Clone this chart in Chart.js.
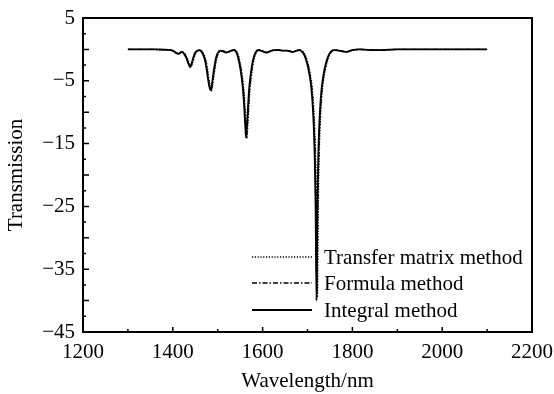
<!DOCTYPE html>
<html><head><meta charset="utf-8">
<script src="https://cdn.jsdelivr.net/npm/chart.js@4/dist/chart.umd.min.js"></script>
<style>html,body{margin:0;padding:0;background:#fff}#wrap{width:554px;height:394px}</style>
</head><body><div id="wrap"><canvas id="c" width="554" height="394"></canvas></div>
<script>
const xTicks = [1200, 1400, 1600, 1800, 2000, 2200];
const yTicks = [5, -5, -15, -25, -35, -45];
const seriesLabels = ['Transfer matrix method', 'Formula method', 'Integral method'];

const wlIntegral = [1300,1320,1340,1360,1380,1395,1402,1408,1413,1419,1424,1429,1434,1438,1442,1446,1450,1455,1460,1464,1468,1472,1475,1478,1481,1484,1487,1490,1493,1496,1500,1505,1512,1519,1526,1535,1541,1545,1549,1552,1555,1558,1560,1562,1563,1564,1566,1568,1570,1573,1576,1580,1585,1590,1600,1608,1616,1625,1635,1645,1655,1667,1675,1682,1687,1692,1696,1701,1705,1709,1712,1714,1716,1718,1720,1722,1724,1726,1728,1731,1735,1739,1744,1748,1753,1760,1770,1786,1800,1816,1840,1867,1900,1950,2000,2050,2100];
const trIntegral = [0,0,0,0,-0.05,-0.1,-0.3,-0.6,-0.7,-0.4,-0.6,-1.2,-2.1,-2.8,-2.2,-1.2,-0.5,-0.2,-0.1,-0.4,-0.9,-1.8,-3.0,-4.5,-5.8,-6.5,-5.6,-4.0,-2.6,-1.4,-0.6,-0.2,-0.3,-0.5,-0.3,-0.1,-0.4,-1.2,-2.5,-3.8,-5.5,-8.0,-10.5,-13.0,-14.0,-13.3,-11,-8.5,-6.3,-4.3,-2.7,-1.3,-0.4,-0.1,-0.3,-0.5,-0.3,-0.1,-0.1,-0.2,-0.2,-0.4,-0.2,-0.1,-0.3,-0.8,-1.5,-2.8,-4.3,-6.5,-9.5,-12.5,-17,-25,-40,-25,-17,-12.5,-9.5,-6.5,-4.3,-2.8,-1.5,-0.8,-0.3,-0.1,-0.2,-0.4,-0.1,0,-0.1,-0.1,0,0,0,0,0];

const wlFormula = [1300,1321,1341,1361,1381,1396,1403,1409,1414,1420,1425,1430,1435,1439,1443,1447,1451,1456,1461,1465,1469,1473,1476,1479,1482,1485,1488,1491,1494,1497,1501,1506,1513,1520,1527,1536,1542,1546,1550,1553,1556,1559,1561,1563,1564,1565,1567,1569,1571,1574,1577,1581,1586,1591,1601,1609,1617,1626,1636,1646,1656,1668,1676,1683,1688,1693,1697,1702,1706,1710,1713,1715,1717,1719,1721,1723,1725,1727,1729,1732,1736,1740,1745,1749,1754,1761,1771,1787,1801,1817,1841,1868,1901,1951,2001,2051,2100];
const trFormula = [0,0,0,0,-0.05,-0.1,-0.3,-0.6,-0.7,-0.4,-0.6,-1.2,-2.1,-2.8,-2.2,-1.2,-0.5,-0.2,-0.1,-0.4,-0.9,-1.8,-3.0,-4.5,-5.8,-6.5,-5.6,-4.0,-2.6,-1.4,-0.6,-0.2,-0.3,-0.5,-0.3,-0.1,-0.4,-1.2,-2.5,-3.8,-5.5,-8.0,-10.5,-13.0,-14.0,-13.3,-11,-8.5,-6.3,-4.3,-2.7,-1.3,-0.4,-0.1,-0.3,-0.5,-0.3,-0.1,-0.1,-0.2,-0.2,-0.4,-0.2,-0.1,-0.3,-0.8,-1.5,-2.8,-4.3,-6.5,-9.5,-12.5,-17,-25,-39,-25,-17,-12.5,-9.5,-6.5,-4.3,-2.8,-1.5,-0.8,-0.3,-0.1,-0.2,-0.4,-0.1,0,-0.1,-0.1,0,0,0,0,0];

const wlTransfer = [1300,1322,1342,1362,1382,1397,1404,1410,1415,1421,1426,1431,1436,1440,1444,1448,1452,1457,1462,1466,1470,1474,1477,1480,1483,1486,1489,1492,1495,1498,1502,1507,1514,1521,1528,1537,1543,1547,1551,1554,1557,1560,1562,1564,1565,1566,1568,1570,1572,1575,1578,1582,1587,1592,1602,1610,1618,1627,1637,1647,1657,1669,1677,1684,1689,1694,1698,1703,1707,1711,1714,1716,1718,1720,1722,1724,1726,1728,1730,1733,1737,1741,1746,1750,1755,1762,1772,1788,1802,1818,1842,1869,1902,1952,2002,2052,2100];
const trTransfer = [0,0,0,0,-0.05,-0.1,-0.3,-0.6,-0.7,-0.4,-0.6,-1.2,-2.1,-2.8,-2.2,-1.2,-0.5,-0.2,-0.1,-0.4,-0.9,-1.8,-3.0,-4.5,-5.8,-6.6,-5.6,-4.0,-2.6,-1.4,-0.6,-0.2,-0.3,-0.5,-0.3,-0.1,-0.4,-1.2,-2.5,-3.8,-5.5,-8.0,-10.5,-13.0,-14.2,-13.3,-11,-8.5,-6.3,-4.3,-2.7,-1.3,-0.4,-0.1,-0.3,-0.5,-0.3,-0.1,-0.1,-0.2,-0.2,-0.4,-0.2,-0.1,-0.3,-0.8,-1.5,-2.8,-4.3,-6.5,-9.5,-12.5,-17,-25,-39.5,-25,-17,-12.5,-9.5,-6.5,-4.3,-2.8,-1.5,-0.8,-0.3,-0.1,-0.2,-0.4,-0.1,0,-0.1,-0.1,0,0,0,0,0];

const FONT = '"Liberation Serif","Times New Roman",serif';
function pts(w, t) { return w.map((x, i) => ({ x: x, y: t[i] })); }

const frame = {
  id: 'frame',
  afterDatasetsDraw(chart) {
    const { ctx, chartArea: a, scales: { x, y } } = chart;
    ctx.save();
    ctx.strokeStyle = '#000';
    ctx.lineWidth = 1.5;
    ctx.beginPath();
    for (let v = y.min + 2.5; v < y.max - 1e-9; v += 2.5) {
      const py = y.getPixelForValue(v);
      const major = Math.abs(v % 5) < 1e-9;
      ctx.moveTo(a.left, py); ctx.lineTo(a.left + (major ? 6 : 3), py);
    }
    for (let v = x.min + 100; v < x.max; v += 100) {
      const px = x.getPixelForValue(v);
      const major = v % 200 === 0;
      ctx.moveTo(px, a.bottom); ctx.lineTo(px, a.bottom - (major ? 5 : 3));
    }
    ctx.stroke();
    ctx.lineWidth = 2;
    ctx.strokeRect(a.left, a.top, a.right - a.left, a.bottom - a.top);
    ctx.restore();
  }
};

const legendIn = {
  id: 'legendIn',
  afterDraw(chart) {
    const { ctx } = chart;
    const rows = [257, 283, 310];
    ctx.save();
    chart.data.datasets.forEach((ds, i) => {
      ctx.strokeStyle = '#000';
      ctx.lineWidth = ds.borderWidth;
      ctx.setLineDash(ds.borderDash || []);
      ctx.beginPath();
      ctx.moveTo(252, rows[i]); ctx.lineTo(312, rows[i]);
      ctx.stroke();
      ctx.setLineDash([]);
      ctx.fillStyle = '#000';
      ctx.font = '21px ' + FONT;
      ctx.textBaseline = 'middle';
      ctx.fillText(ds.label, 324, rows[i] + 1);
    });
    ctx.restore();
  }
};

new Chart(document.getElementById('c'), {
  type: 'line',
  data: {
    datasets: [
      { label: seriesLabels[0], data: pts(wlTransfer, trTransfer), borderColor: '#000', borderWidth: 1.4, borderDash: [1.2, 1.6], pointRadius: 0, cubicInterpolationMode: 'monotone', fill: false },
      { label: seriesLabels[1], data: pts(wlFormula, trFormula), borderColor: '#000', borderWidth: 1.4, borderDash: [5, 2, 1.5, 2], pointRadius: 0, cubicInterpolationMode: 'monotone', fill: false },
      { label: seriesLabels[2], data: pts(wlIntegral, trIntegral), borderColor: '#000', borderWidth: 1.8, pointRadius: 0, cubicInterpolationMode: 'monotone', fill: false }
    ]
  },
  options: {
    responsive: false, animation: false, events: [],
    layout: { padding: { left: 0, right: 22, top: 18, bottom: 0 } },
    plugins: { legend: { display: false }, tooltip: { enabled: false } },
    scales: {
      x: {
        type: 'linear', min: 1200, max: 2200,
        afterBuildTicks: s => { s.ticks = xTicks.map(v => ({ value: v })); },
        afterFit: s => { s.height = 62; s.paddingLeft = 0; s.paddingRight = 0; },
        grid: { display: false, drawTicks: false }, border: { display: false },
        ticks: { font: { family: FONT, size: 21 }, color: '#000', padding: 8, maxRotation: 0, autoSkip: false, callback: v => String(v) },
        title: { display: true, text: 'Wavelength/nm', font: { family: FONT, size: 21 }, color: '#000', padding: { top: 0, bottom: 0 } }
      },
      y: {
        type: 'linear', min: -45, max: 5,
        afterBuildTicks: s => { s.ticks = yTicks.map(v => ({ value: v })); },
        afterFit: s => { s.width = 83; s.paddingTop = 0; s.paddingBottom = 0; },
        grid: { display: false, drawTicks: false }, border: { display: false },
        ticks: { font: { family: FONT, size: 21 }, color: '#000', padding: 8, autoSkip: false, callback: v => String(v).replace('-', '\u2212') },
        title: { display: true, text: 'Transmission', font: { family: FONT, size: 21 }, color: '#000', padding: { top: 4, bottom: 0 } }
      }
    }
  },
  plugins: [frame, legendIn]
});
</script></body></html>
